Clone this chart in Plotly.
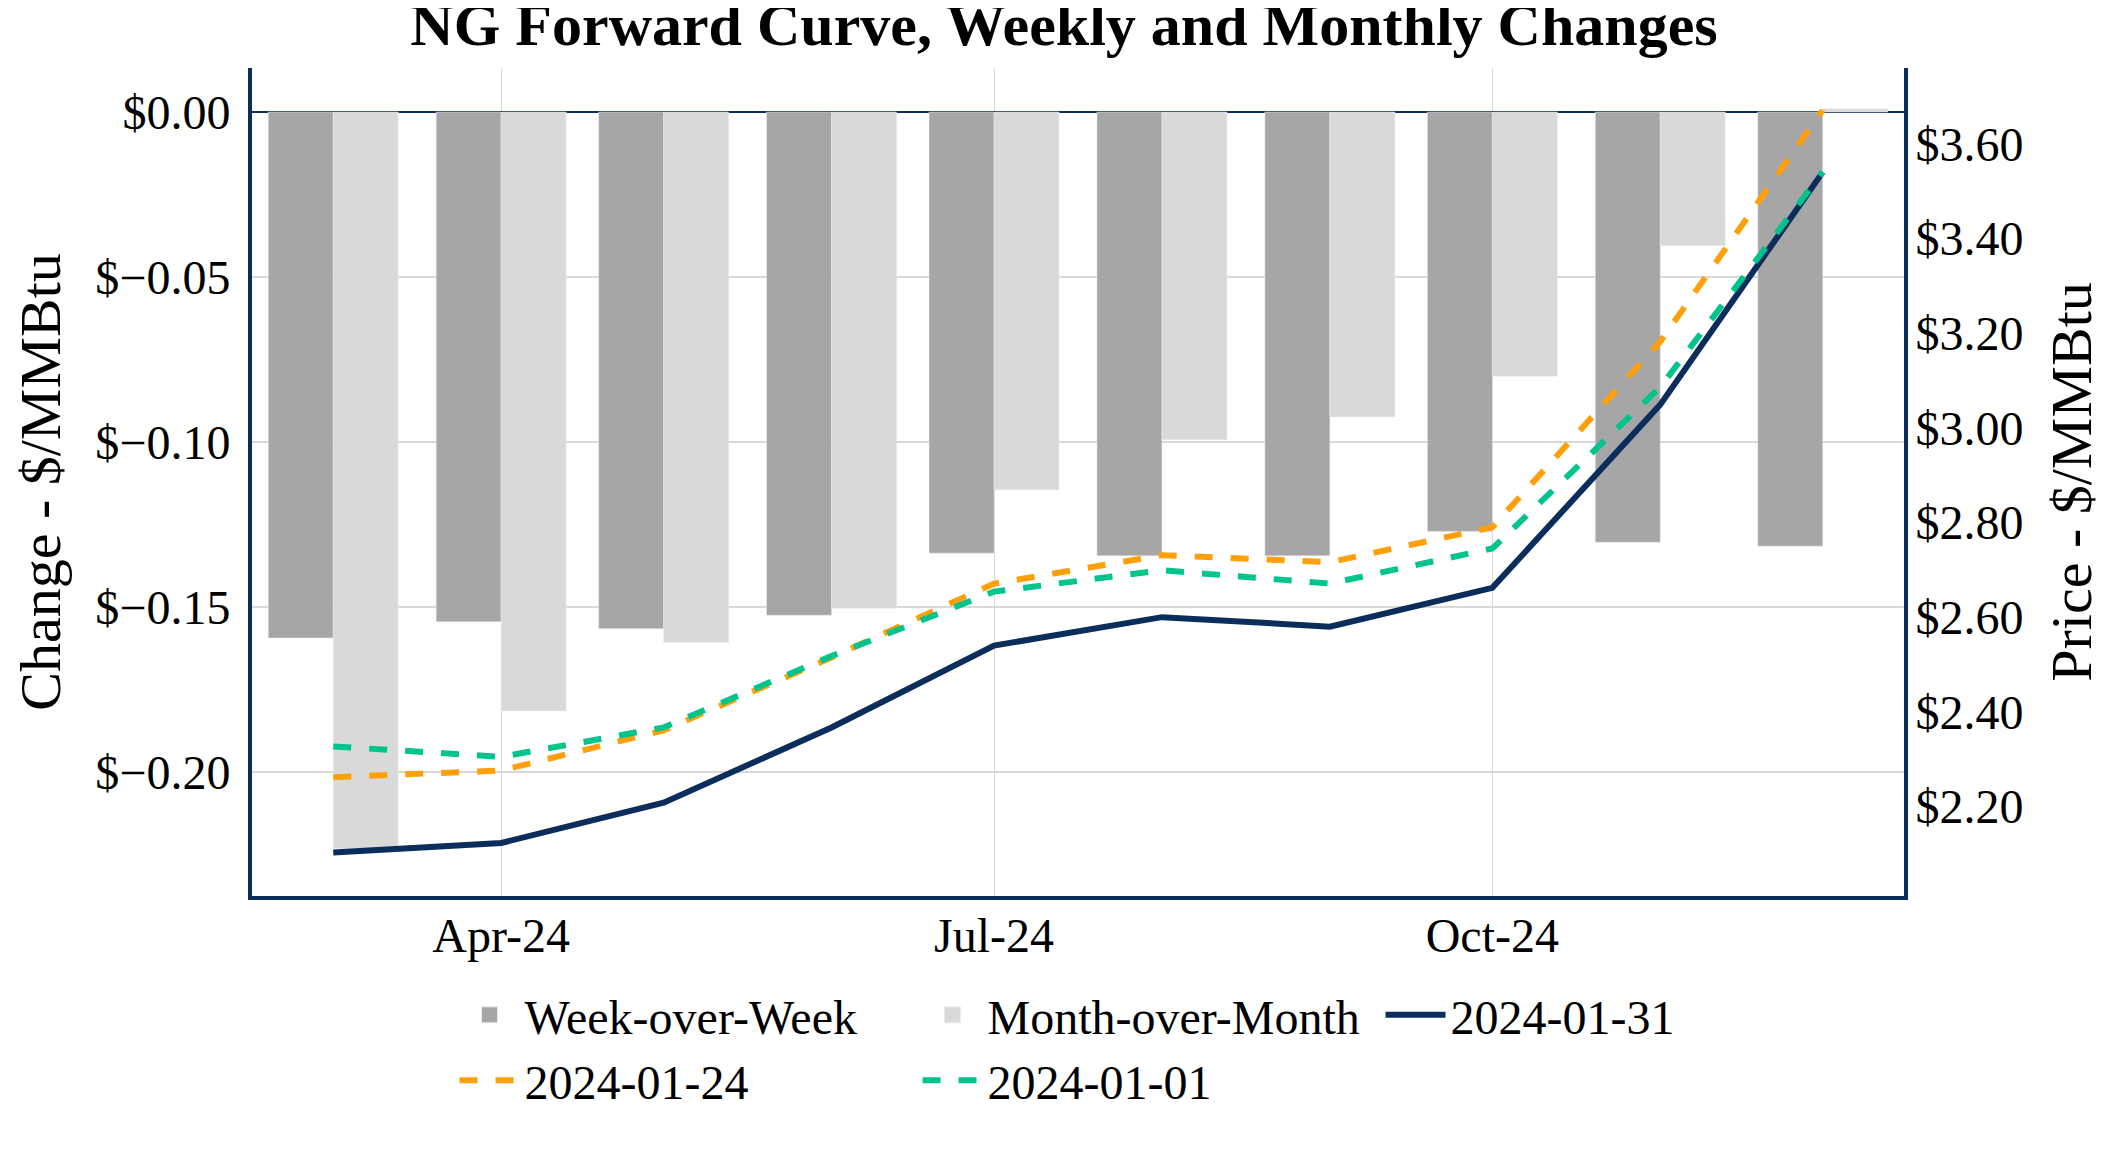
import plotly.graph_objects as go

months = ["2024-03-01", "2024-04-01", "2024-05-01", "2024-06-01", "2024-07-01",
          "2024-08-01", "2024-09-01", "2024-10-01", "2024-11-01", "2024-12-01"]

wow = [-0.1594, -0.1545, -0.1566, -0.1525, -0.1337, -0.1345, -0.1345, -0.1271, -0.1304, -0.1316]
mom = [-0.2232, -0.1815, -0.1607, -0.1504, -0.1145, -0.0993, -0.0924, -0.0801, -0.0405, 0.001]

curve_0131 = [2.103, 2.123, 2.208, 2.367, 2.540, 2.600, 2.580, 2.662, 3.049, 3.540]
curve_0124 = [2.262, 2.276, 2.361, 2.515, 2.671, 2.731, 2.716, 2.790, 3.182, 3.671]
curve_0101 = [2.327, 2.305, 2.367, 2.518, 2.654, 2.699, 2.671, 2.745, 3.086, 3.540]

NAVY = "#0B2D5B"
ORANGE = "#FFA00A"
GREEN = "#00C48C"
GREY_DARK = "#A6A6A6"
GREY_LIGHT = "#D9D9D9"
FONT = "Liberation Serif"

fig = go.Figure()
fig.add_trace(go.Bar(x=months, y=wow, name="Week-over-Week", showlegend=False,
                     marker=dict(color=GREY_DARK, line=dict(color="#E5ECF6", width=0.5))))
fig.add_trace(go.Bar(x=months, y=mom, name="Month-over-Month", showlegend=False,
                     marker=dict(color=GREY_LIGHT, line=dict(color="#E5ECF6", width=0.5))))
# legend entries for the bars (larger square swatches)
fig.add_trace(go.Scatter(x=[None], y=[None], name="Week-over-Week", mode="markers",
                         marker=dict(symbol="square", size=16, color=GREY_DARK,
                                     line=dict(color="#E5ECF6", width=1))))
fig.add_trace(go.Scatter(x=[None], y=[None], name="Month-over-Month", mode="markers",
                         marker=dict(symbol="square", size=16, color=GREY_LIGHT,
                                     line=dict(color="#E5ECF6", width=1))))
fig.add_trace(go.Scatter(x=months, y=curve_0131, name="2024-01-31", mode="lines",
                         line=dict(color=NAVY, width=6), yaxis="y2"))
fig.add_trace(go.Scatter(x=months, y=curve_0124, name="2024-01-24", mode="lines",
                         line=dict(color=ORANGE, width=6, dash="dash"), yaxis="y2"))
fig.add_trace(go.Scatter(x=months, y=curve_0101, name="2024-01-01", mode="lines",
                         line=dict(color=GREEN, width=6, dash="dash"), yaxis="y2"))

fig.update_layout(
    width=2112, height=1152,
    template="plotly_white",
    paper_bgcolor="white", plot_bgcolor="white",
    font=dict(family=FONT, size=48, color="black"),
    margin=dict(l=244, r=216, t=60, b=264, autoexpand=False),
    barmode="group",
    title=dict(text="<b>NG Forward Curve, Weekly and Monthly Changes</b>",
               x=0.5, xref="container", xanchor="center",
               y=0.9861, yref="container", yanchor="middle",
               font=dict(family=FONT, size=60, color="black")),
    xaxis=dict(type="date", tickformat="%b-%y", dtick="M3", tick0="2024-01-01",
               showgrid=True, gridcolor="#D9D9D9", gridwidth=1,
               showline=True, linecolor=NAVY, linewidth=4, automargin=False,
               ticks="", tickfont=dict(size=48), ticklabelstandoff=-6),
    yaxis=dict(title=dict(text="Change - $/MMBtu", font=dict(size=58), standoff=40),
               range=[-0.2376, 0.01333], dtick=0.05, tickprefix="$", tickformat=".2f",
               showgrid=True, gridcolor="#D9D9D9", gridwidth=2,
               zeroline=True, zerolinecolor=NAVY, zerolinewidth=2,
               showline=True, linecolor=NAVY, linewidth=4, automargin=False,
               ticks="", ticklabelstandoff=8,
               tickfont=dict(size=48)),
    yaxis2=dict(title=dict(text="Price - $/MMBtu", font=dict(size=58), standoff=29),
                overlaying="y", side="right",
                range=[2.011, 3.760], dtick=0.2, tickprefix="$", tickformat=".2f",
                showgrid=False, zeroline=False,
                showline=True, linecolor=NAVY, linewidth=4, automargin=False,
                ticks="", ticklabelstandoff=-2,
                tickfont=dict(size=48)),
    legend=dict(orientation="h", x=0.543, xanchor="center", y=-0.098, yanchor="top",
                itemwidth=60, entrywidth=388,
                font=dict(size=48), bgcolor="rgba(0,0,0,0)"),
)

fig.write_html("out.html")
